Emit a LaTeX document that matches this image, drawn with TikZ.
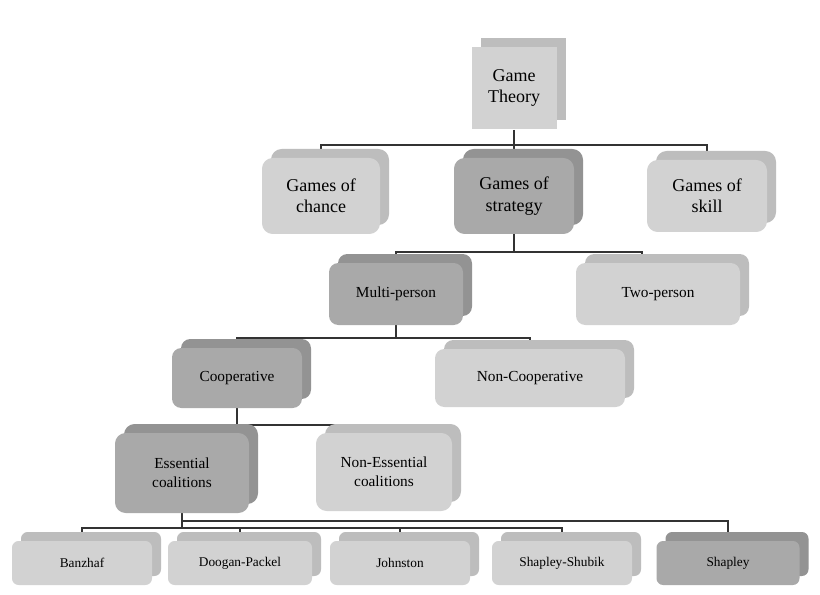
\documentclass[tikz,border=0pt]{standalone}
\usepackage{fontspec}
\setmainfont{Liberation Serif}
\definecolor{lightface}{HTML}{D2D2D2}
\definecolor{lightback}{HTML}{BDBDBD}
\definecolor{darkface}{HTML}{A9A9A9}
\definecolor{darkback}{HTML}{939393}
\tikzset{
  gbox/.style={align=center, inner sep=0pt, font=\fontsize{13.5}{16}\selectfont},
  gsmall/.style={font=\fontsize{11.5}{14}\selectfont},
  gtiny/.style={font=\fontsize{10}{12}\selectfont},
  link/.style={draw=black!80, line width=0.8pt},
}
\newcommand{\gnode}[9]{% name, x, y, w, h, style, face, back, text
  \node[gbox, #6, fill=#8, minimum width=#4*0.75pt, minimum height=#5*0.75pt] at (#2+9,#3-9) {};
  \node[gbox, #6, fill=#7, minimum width=#4*0.75pt, minimum height=#5*0.75pt] (#1) at (#2,#3) {#9};
}
\begin{document}
\begin{tikzpicture}[x=0.75pt,y=-0.75pt]
  \useasboundingbox[fill=white] (0,0) rectangle (820,595);

  % connectors first
  \draw[link] (514,130) -- (514,158);
  \draw[link] (321,158) |- (707,145) -- (707,158);
  \draw[link] (514,232) -- (514,252);
  \draw[link] (396,268) |- (642,252) -- (642,268);
  \draw[link] (396,322) -- (396,338);
  \draw[link] (237,352) |- (530,338) -- (530,352);
  \draw[link] (237,406) -- (237,425);
  \draw[link] (182,438) |- (382,425) -- (382,438);
  \draw[link] (182,510) -- (182,528);
  \draw[link] (82,545) |- (562,528) -- (562,545);
  \foreach \x in {240,400} \draw[link] (\x,528) -- (\x,545);
  \draw[link] (182,521) -| (728,545);

  % boxes
  \gnode{gt}{514}{88}{85}{82}{}{lightface}{lightback}{Game\\Theory}
  \gnode{chance}{321}{196}{118}{76}{rounded corners=8}{lightface}{lightback}{Games of\\chance}
  \gnode{strategy}{514}{196}{120}{76}{rounded corners=8}{darkface}{darkback}{Games of\\strategy}
  \gnode{skill}{707}{196}{120}{72}{rounded corners=8}{lightface}{lightback}{Games of\\skill}
  \gnode{multi}{396}{294}{134}{62}{rounded corners=7, gsmall}{darkface}{darkback}{Multi-person}
  \gnode{two}{658}{294}{164}{62}{rounded corners=7, gsmall}{lightface}{lightback}{Two-person}
  \gnode{coop}{237}{378}{130}{60}{rounded corners=7, gsmall}{darkface}{darkback}{Cooperative}
  \gnode{noncoop}{530}{378}{190}{58}{rounded corners=7, gsmall}{lightface}{lightback}{Non-Cooperative}
  \gnode{ess}{182}{473}{134}{80}{rounded corners=8, gsmall}{darkface}{darkback}{Essential\\coalitions}
  \gnode{noness}{384}{472}{136}{78}{rounded corners=8, gsmall}{lightface}{lightback}{Non-Essential\\coalitions}
  \gnode{banzhaf}{82}{563}{140}{44}{rounded corners=5, gtiny}{lightface}{lightback}{Banzhaf}
  \gnode{doogan}{240}{563}{144}{44}{rounded corners=5, gtiny}{lightface}{lightback}{Doogan-Packel}
  \gnode{johnston}{400}{563}{140}{44}{rounded corners=5, gtiny}{lightface}{lightback}{Johnston}
  \gnode{shubik}{562}{563}{140}{44}{rounded corners=5, gtiny}{lightface}{lightback}{Shapley-Shubik}
  \gnode{shapley}{728}{563}{143}{44}{rounded corners=5, gtiny}{darkface}{darkback}{Shapley}
\end{tikzpicture}
\end{document}
